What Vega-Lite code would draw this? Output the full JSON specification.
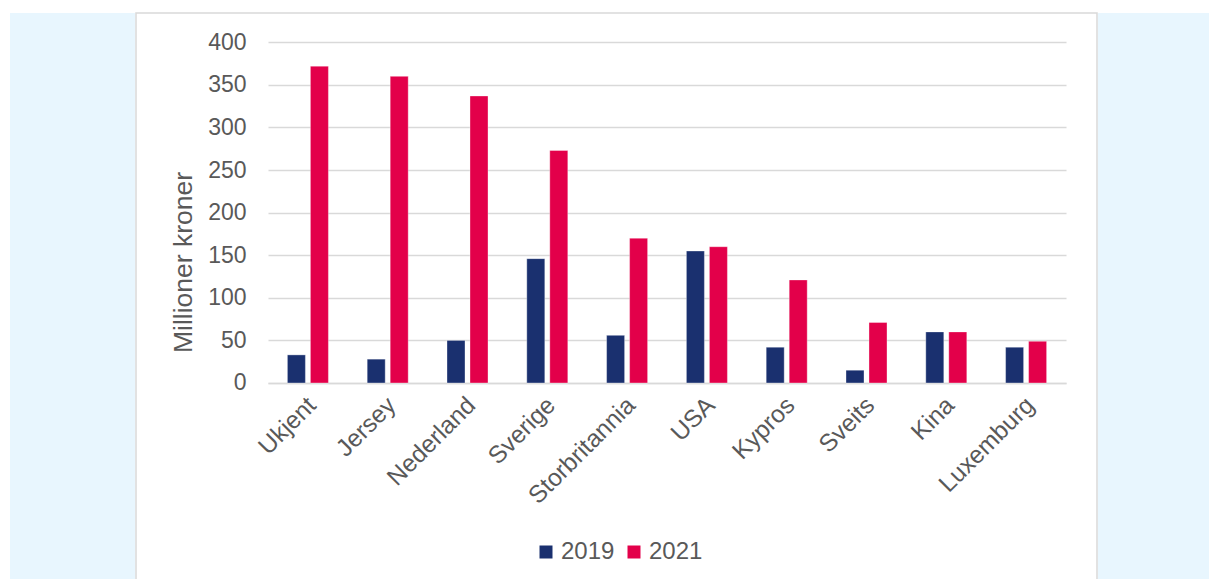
{
  "$schema": "https://vega.github.io/schema/vega-lite/v6.json",
  "background": "white",
  "padding": {"left": 10, "top": 12, "right": 0, "bottom": 0},
  "config": {
    "font": "Liberation Sans",
    "concat": {"spacing": 0}
  },
  "hconcat": [
    {
      "width": 125,
      "height": 567,
      "view": {"fill": "#e8f6fe", "stroke": null},
      "data": {"values": []},
      "mark": "point",
      "encoding": {}
    },
    {
      "width": 961,
      "height": 567,
      "view": {"fill": "white", "stroke": "#d9d9d9", "strokeWidth": 1.5},
      "data": {
        "values": [
          {"land": "Ukjent", "år": "2019", "verdi": 33},
          {"land": "Ukjent", "år": "2021", "verdi": 372},
          {"land": "Jersey", "år": "2019", "verdi": 28},
          {"land": "Jersey", "år": "2021", "verdi": 360},
          {"land": "Nederland", "år": "2019", "verdi": 50},
          {"land": "Nederland", "år": "2021", "verdi": 337},
          {"land": "Sverige", "år": "2019", "verdi": 146},
          {"land": "Sverige", "år": "2021", "verdi": 273},
          {"land": "Storbritannia", "år": "2019", "verdi": 56},
          {"land": "Storbritannia", "år": "2021", "verdi": 170},
          {"land": "USA", "år": "2019", "verdi": 155},
          {"land": "USA", "år": "2021", "verdi": 160},
          {"land": "Kypros", "år": "2019", "verdi": 42},
          {"land": "Kypros", "år": "2021", "verdi": 121},
          {"land": "Sveits", "år": "2019", "verdi": 15},
          {"land": "Sveits", "år": "2021", "verdi": 71},
          {"land": "Kina", "år": "2019", "verdi": 60},
          {"land": "Kina", "år": "2021", "verdi": 60},
          {"land": "Luxemburg", "år": "2019", "verdi": 42},
          {"land": "Luxemburg", "år": "2021", "verdi": 49}
        ]
      },
      "mark": {"type": "bar", "stroke": "white", "strokeOpacity": 0.35, "strokeWidth": 1},
      "encoding": {
        "x": {
          "field": "land",
          "type": "nominal",
          "sort": null,
          "scale": {"range": [132, 930], "paddingInner": 0, "paddingOuter": 0},
          "axis": {
            "title": null,
            "offset": -197,
            "labelAngle": -45,
            "labelFontSize": 24.5,
            "labelColor": "#595959",
            "labelPadding": 10,
            "labelOffset": -4,
            "ticks": false,
            "domainColor": "#d9d9d9",
            "domainWidth": 1.5,
            "grid": false
          }
        },
        "xOffset": {
          "field": "år",
          "type": "nominal",
          "scale": {"paddingInner": 0.217, "paddingOuter": 0.843}
        },
        "y": {
          "field": "verdi",
          "type": "quantitative",
          "scale": {"domain": [-231.3, 434.4], "nice": false, "zero": false},
          "axis": {
            "values": [0, 50, 100, 150, 200, 250, 300, 350, 400],
            "offset": -112,
            "domain": false,
            "ticks": false,
            "labelFontSize": 23,
            "labelColor": "#595959",
            "labelPadding": 2,
            "gridColor": "#d9d9d9",
            "gridWidth": 1.5,
            "title": "Millioner kroner",
            "titleFontSize": 26.5,
            "titleFontWeight": "normal",
            "titleColor": "#595959",
            "titleX": -51,
            "titleY": 249
          }
        },
        "color": {
          "field": "år",
          "type": "nominal",
          "scale": {"domain": ["2019", "2021"], "range": ["#1a306f", "#e3004a"]},
          "legend": {
            "title": null,
            "orient": "none",
            "direction": "horizontal",
            "legendX": 524,
            "legendY": 527,
            "padding": 0,
            "symbolType": "square",
            "symbolSize": 169,
            "symbolStrokeWidth": 0,
            "labelFontSize": 24,
            "labelColor": "#595959",
            "labelOffset": 3,
            "columnPadding": 7
          }
        }
      }
    },
    {
      "width": 113,
      "height": 567,
      "view": {"fill": "#e8f6fe", "stroke": null},
      "data": {"values": []},
      "mark": "point",
      "encoding": {}
    }
  ]
}
